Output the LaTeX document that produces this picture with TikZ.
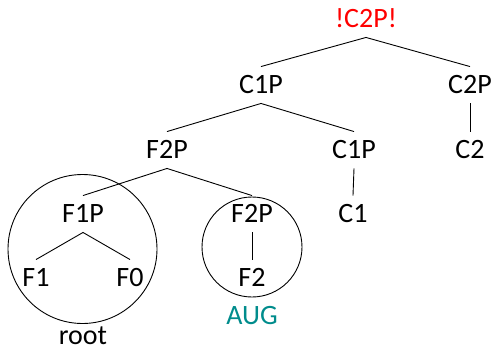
\documentclass[tikz,border=0pt]{standalone}
\usepackage{fontspec}
\setmainfont{Carlito}
\definecolor{augcol}{RGB}{0,140,140}
\begin{document}
\begin{tikzpicture}[x=1pt,y=-1pt,
  lbl/.style={inner xsep=2pt, inner ysep=9.5pt, text height=17.5pt, text depth=0pt,
    font=\fontsize{28}{33}\selectfont},
  edge/.style={line width=0.9pt},
  ring/.style={draw, circle, line width=0.9pt, inner sep=0pt}]
\useasboundingbox (0,0) rectangle (491,349);
\node[lbl, text=red] (top) at (366,19) {!C2P!};
\node[lbl] (c1pa) at (261,85) {C1P};
\node[lbl] (c2p) at (470,85) {C2P};
\node[lbl] (f2pa) at (167,150) {F2P};
\node[lbl] (c1pb) at (354,150) {C1P};
\node[lbl] (c2) at (470,150) {C2};
\node[lbl] (f1p) at (83,214) {F1P};
\node[lbl] (f2pb) at (252,214) {F2P};
\node[lbl] (c1) at (353,214) {C1};
\node[lbl] (f1) at (36,278) {F1};
\node[lbl] (f0) at (130,278) {F0};
\node[lbl] (f2) at (252,278) {F2};
\node[lbl, text=augcol] (aug) at (252,316) {AUG};
\node[font=\fontsize{28}{33}\selectfont, inner sep=0.5pt, anchor=base] (root) at (83,344.5) {root};
\node[ring, minimum size=149pt] (bigc) at (82.5,249) {};
\node[ring, minimum size=100pt] (smallc) at (252,247) {};
\draw[edge] (c1pa.north) -- (top.south) -- (c2p.north);
\draw[edge] (f2pa.north) -- (c1pa.south) -- (c1pb.north);
\draw[edge] (c2p.south) -- (c2.north);
\draw[edge] (c1pb.south) -- (c1.north);
\draw[edge] (f1p.north) -- (f2pa.south) -- (f2pb.north);
\draw[edge] (f1.north) -- (f1p.south) -- (f0.north);
\draw[edge] (f2pb.south) -- (f2.north);
\end{tikzpicture}
\end{document}
